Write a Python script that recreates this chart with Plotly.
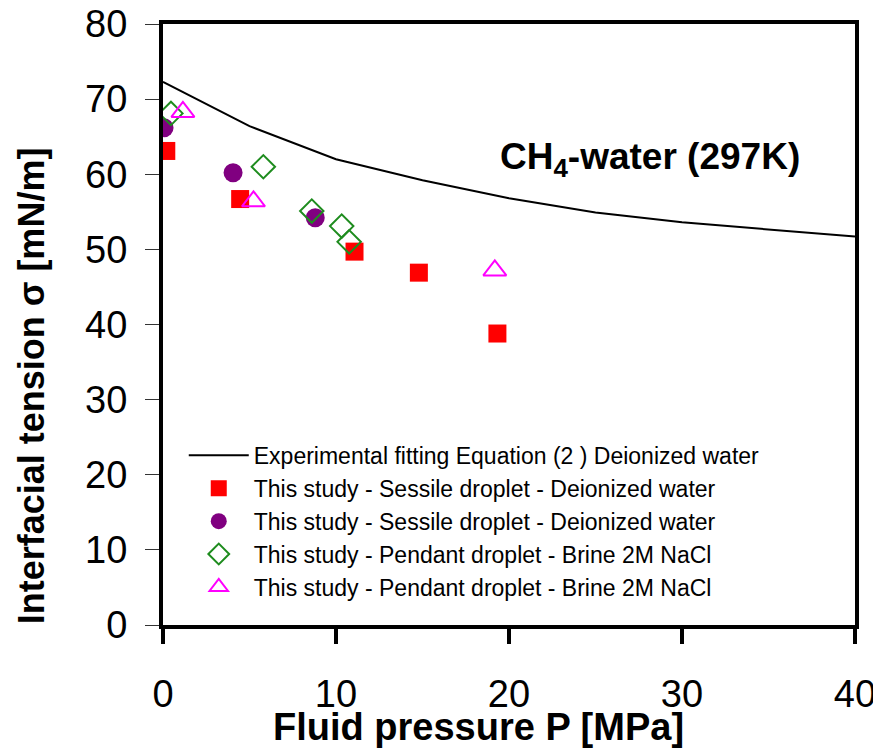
import plotly.graph_objects as go

# Fitting curve (Equation 2, deionized water)
fit_p = [0, 5, 10, 15, 20, 25, 30, 35, 40]
fit_sigma = [72.3, 66.4, 62.0, 59.2, 56.8, 54.9, 53.6, 52.7, 51.7]

# Sessile droplet - deionized water (squares)
sq_p = [0.19, 4.46, 11.07, 14.79, 19.33]
sq_sigma = [63.1, 56.7, 49.7, 46.9, 38.8]

# Sessile droplet - deionized water (circles)
ci_p = [0.06, 4.05, 8.8]
ci_sigma = [66.2, 60.2, 54.2]

# Pendant droplet - brine 2M NaCl (diamonds)
di_p = [0.46, 5.8, 8.6, 10.33, 10.76]
di_sigma = [68.1, 61.0, 55.1, 53.1, 51.0]

# Pendant droplet - brine 2M NaCl (triangles)
tr_p = [1.15, 5.23, 19.18]
tr_sigma = [68.3, 56.4, 47.2]

x_ticks = [0, 10, 20, 30, 40]
y_ticks = [0, 10, 20, 30, 40, 50, 60, 70, 80]

FONT = "Liberation Sans, Arial, sans-serif"

fig = go.Figure()
fig.add_trace(go.Scatter(
    x=fit_p, y=fit_sigma, mode="lines",
    line=dict(color="black", width=2),
    name="Experimental fitting Equation (2 ) Deionized water",
    legendgroup="a"))
fig.add_trace(go.Scatter(
    x=sq_p, y=sq_sigma, mode="markers",
    marker=dict(symbol="square", size=18, color="#FF0000"),
    name="This study - Sessile droplet - Deionized water",
    legendgroup="b"))
fig.add_trace(go.Scatter(
    x=ci_p, y=ci_sigma, mode="markers",
    marker=dict(symbol="circle", size=19, color="#800080"),
    name="This study - Sessile droplet - Deionized water",
    legendgroup="c"))
fig.add_trace(go.Scatter(
    x=di_p, y=di_sigma, mode="markers",
    marker=dict(symbol="diamond-open", size=18, color="#1E8C1E",
                line=dict(width=2, color="#1E8C1E")),
    name="This study - Pendant droplet - Brine 2M NaCl",
    legendgroup="d"))
fig.add_trace(go.Scatter(
    x=tr_p, y=tr_sigma, mode="markers",
    marker=dict(symbol="triangle-up-open", size=20, color="#FF00FF",
                line=dict(width=2, color="#FF00FF")),
    name="This study - Pendant droplet - Brine 2M NaCl",
    legendgroup="e"))

# chart label
fig.add_annotation(
    x=0.484, xref="paper", y=62.0, yref="y",
    text="<b>CH<sub>4</sub>-water (297K)</b>", showarrow=False,
    xanchor="left", yanchor="middle",
    font=dict(family=FONT, size=37, color="black"))
# axis titles
fig.add_annotation(
    x=0.456, xref="paper", y=-0.17, yref="paper",
    text="<b>Fluid pressure P [MPa]</b>", showarrow=False,
    xanchor="center", yanchor="middle",
    font=dict(family=FONT, size=38, color="black"))
fig.add_annotation(
    x=-0.19, xref="paper", y=0.398, yref="paper",
    text="<b>Interfacial tension σ [mN/m]</b>", showarrow=False,
    textangle=-90, xanchor="center", yanchor="middle",
    font=dict(family=FONT, size=36, color="black"))

# page body has an 8px margin: figure is sized/offset to compensate
fig.update_layout(
    width=873, height=742,
    margin=dict(l=155, r=26, t=16, b=125),
    paper_bgcolor="white", plot_bgcolor="white",
    font=dict(family=FONT, color="black"),
    showlegend=True,
    legend=dict(x=0.03, y=0.318, xanchor="left", yanchor="top",
                bgcolor="rgba(0,0,0,0)", font=dict(family=FONT, size=23),
                tracegroupgap=0, itemwidth=60),
    xaxis=dict(range=[0, 40], tickvals=x_ticks, ticks="outside", ticklen=15,
               tickwidth=4, tickcolor="black", showline=True, linewidth=4,
               linecolor="black", mirror=True, showgrid=False, zeroline=False,
               automargin=False, ticklabelstandoff=17,
               ticklabeloverflow="allow",
               tickfont=dict(family=FONT, size=38)),
    yaxis=dict(range=[0, 80], tickvals=y_ticks, ticks="outside", ticklen=14,
               tickwidth=1, tickcolor="#333333", showline=True, linewidth=4,
               linecolor="black", mirror=True, showgrid=False, zeroline=False,
               automargin=False, ticklabelstandoff=10,
               ticklabeloverflow="allow",
               tickfont=dict(family=FONT, size=38)),
)

fig.write_html("out.html")
